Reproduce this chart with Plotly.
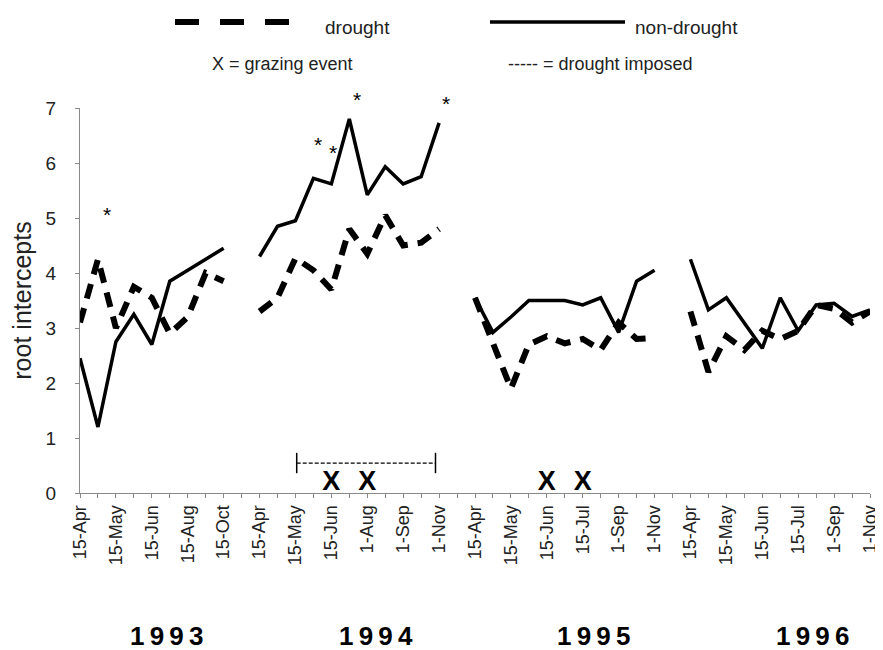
import plotly.graph_objects as go

# sampling dates: 45 category slots, labels shown on every other slot
tick_pos = list(range(0, 45, 2))
tick_labels = [
    "15-Apr", "15-May", "15-Jun", "15-Aug", "15-Oct",
    "15-Apr", "15-May", "15-Jun", "1-Aug", "1-Sep", "1-Nov",
    "15-Apr", "15-May", "15-Jun", "15-Jul", "1-Sep", "1-Nov",
    "15-Apr", "15-May", "15-Jun", "15-Jul", "1-Sep", "1-Nov",
]
slots = list(range(45))

non_drought = [
    2.45, 1.2, 2.75, 3.25, 2.7, 3.85, 4.05, 4.25, 4.45, None,
    4.3, 4.85, 4.95, 5.72, 5.62, 6.8, 5.42, 5.93, 5.62, 5.75, 6.73, None,
    3.55, 2.92, 3.2, 3.5, 3.5, 3.5, 3.42, 3.55, 2.92, 3.85, 4.05, None,
    4.25, 3.33, 3.55, 3.1, 2.63, 3.55, 2.95, 3.42, 3.45, 3.21, 3.33,
]
drought = [
    3.1, 4.25, 3.0, 3.75, 3.55, 2.9, 3.2, 4.0, 3.85, None,
    3.3, 3.55, 4.27, 4.05, 3.7, 4.8, 4.35, 5.05, 4.5, 4.55, 4.8, None,
    3.55, 2.7, 1.9, 2.7, 2.85, 2.72, 2.8, 2.6, 3.1, 2.8, 2.82, None,
    3.3, 2.2, 2.85, 2.6, 2.95, 2.8, 2.95, 3.42, 3.35, 3.1, 3.3,
]

# grazing events (X) and significance stars
graze_x = [14, 16, 26, 28]
graze_y = [0.18, 0.18, 0.18, 0.18]
star_x = [1.5, 13.25, 14.1, 15.4, 20.4]
star_y = [5.15, 6.42, 6.28, 7.24, 7.18]

years = ["1993", "1994", "1995", "1996"]
year_x = [4.8, 16.5, 28.6, 40.8]

FONT = "Liberation Sans, Arial, sans-serif"
AXIS_GREY = "#8a8a8a"
Y_MAX = 7

# page is drawn with an 8px body margin; plot area in page pixels: x 80..870, y 108..493
W, H = 875, 642
L, R, T, B = 80, 870, 108, 493


def px(x):
    return (x - L) / (R - L)


def py(y):
    return (B - y) / (B - T)


fig = go.Figure()
fig.add_trace(go.Scatter(
    x=slots, y=drought, mode="lines", connectgaps=False,
    line=dict(color="black", width=6, dash="15px,10px"),
))
fig.add_trace(go.Scatter(
    x=slots, y=non_drought, mode="lines", connectgaps=False,
    line=dict(color="black", width=3.5),
))
fig.add_trace(go.Scatter(
    x=graze_x, y=graze_y, mode="text", text=["X"] * len(graze_x),
    textfont=dict(family=FONT, size=27, color="black", weight="bold"),
    cliponaxis=False,
))
# stars may sit above the y range, so place them against the paper
for xs, ys in zip(star_x, star_y):
    fig.add_annotation(text="*", x=xs, y=ys / Y_MAX, xref="x", yref="paper", showarrow=False,
                       yanchor="middle", yshift=-5,
                       font=dict(family=FONT, size=21, color="black"))

# drought imposed bracket
fig.add_shape(type="line", xref="x", yref="y", x0=12.07, x1=19.8, y0=0.545, y1=0.545,
              line=dict(color="black", width=1.2, dash="4px,2px"))
for xb in (12.07, 19.8):
    fig.add_shape(type="line", xref="x", yref="y", x0=xb, x1=xb, y0=0.36, y1=0.73,
                  line=dict(color="black", width=1.5))

# legend drawn by hand
fig.add_shape(type="line", xref="paper", yref="paper", x0=px(175), x1=px(290),
              y0=py(22), y1=py(22), line=dict(color="black", width=6, dash="24px,21px"))
fig.add_shape(type="line", xref="paper", yref="paper", x0=px(490), x1=px(625),
              y0=py(22), y1=py(22), line=dict(color="black", width=3.5))
legend_text = [
    ("drought", 323, 28, "left", 19),
    ("non-drought", 633, 28, "left", 19),
    ("X = grazing event", 282, 64, "center", 18),
    ("----- = drought imposed", 506, 64, "left", 18),
]
for txt, x, y, anchor, size in legend_text:
    fig.add_annotation(text=txt, xref="paper", yref="paper", x=px(x), y=py(y),
                       xanchor=anchor, yanchor="middle", showarrow=False,
                       font=dict(family=FONT, size=size, color="#222"))

for yr, xv in zip(years, year_x):
    fig.add_annotation(text="\u2009".join(yr), xref="x", yref="paper", x=xv, y=py(636),
                       xanchor="center", yanchor="middle", showarrow=False,
                       font=dict(family=FONT, size=26, color="black", weight="bold"))

fig.update_layout(
    width=W, height=H,
    margin=dict(l=L - 8, r=W - (R - 8), t=T - 8, b=H - (B - 8)),
    paper_bgcolor="white", plot_bgcolor="white",
    showlegend=False,
    font=dict(family=FONT, color="#222"),
)
fig.update_xaxes(
    range=[0, 44], tickmode="array", tickvals=tick_pos, ticktext=tick_labels,
    tickangle=-90, tickfont=dict(size=18, color="#222"),
    showgrid=False, zeroline=False, automargin=False,
    showline=True, linecolor=AXIS_GREY, linewidth=1,
    ticks="outside", ticklen=4, tickcolor=AXIS_GREY,
    minor=dict(dtick=1, tick0=0, ticks="outside", ticklen=4, tickcolor=AXIS_GREY, showgrid=False),
)
fig.update_yaxes(
    range=[0, Y_MAX], dtick=1, tickfont=dict(size=19, color="#222"),
    showgrid=False, zeroline=False, automargin=False,
    showline=True, linecolor=AXIS_GREY, linewidth=1,
    ticks="outside", ticklen=4, tickcolor=AXIS_GREY, ticklabelstandoff=15,
    title=dict(text="root intercepts", font=dict(size=25, color="#222"), standoff=6),
)

fig.write_html("out.html")
